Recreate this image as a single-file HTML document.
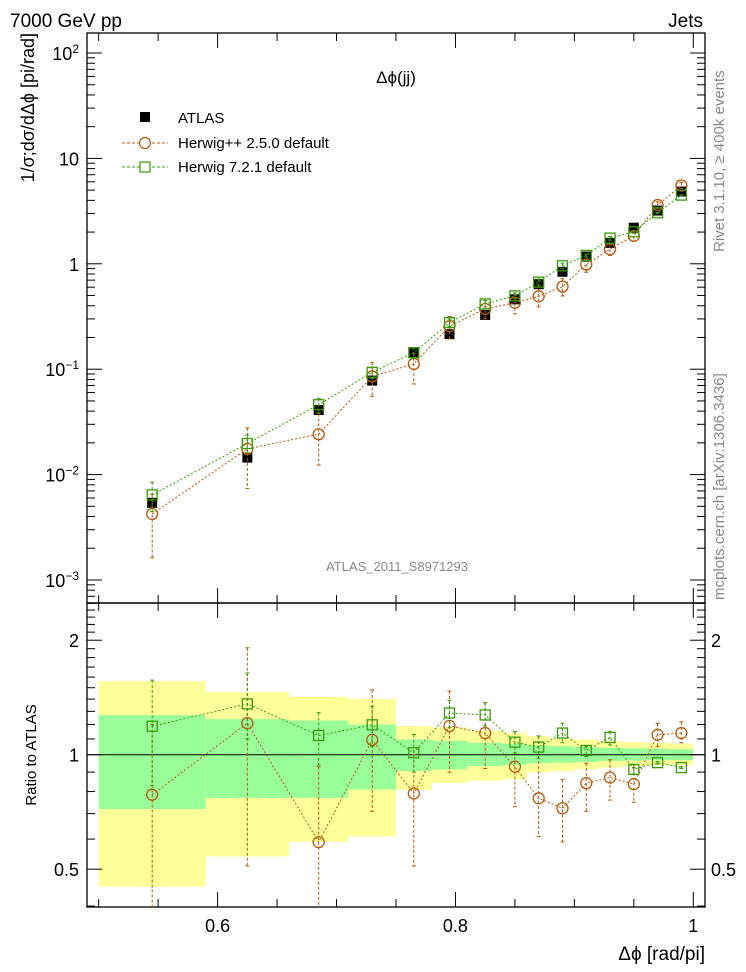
<!DOCTYPE html>
<html><head><meta charset="utf-8"><style>
body{margin:0;background:#fff;}
svg{display:block;font-family:"Liberation Sans",sans-serif;}
</style></head><body>
<svg id="c" width="746" height="972" viewBox="0 0 746 972" xmlns="http://www.w3.org/2000/svg">
<rect x="0" y="0" width="746" height="972" fill="#fff"/>
<g id="bands"></g>
<g id="axes"></g>
<g id="marks"></g>
<text x="10" y="27" font-size="19">7000 GeV pp</text>
<text x="703" y="27" font-size="19" text-anchor="end">Jets</text>
<text x="396" y="83" font-size="17" text-anchor="middle">Δϕ(jj)</text>
<text x="397" y="571" font-size="13" fill="#888" text-anchor="middle">ATLAS_2011_S8971293</text>
<text transform="translate(34,33) rotate(-90)" font-size="18" text-anchor="end">1/σ;dσ/dΔϕ [pi/rad]</text>
<text transform="translate(36,755) rotate(-90)" font-size="15" text-anchor="middle">Ratio to ATLAS</text>
<text x="705" y="960" font-size="19" text-anchor="end">Δϕ [rad/pi]</text>
<text transform="translate(724,252) rotate(-90)" font-size="15" fill="#888">Rivet 3.1.10, ≥ 400k events</text>
<text transform="translate(724,600) rotate(-90)" font-size="15" fill="#888">mcplots.cern.ch [arXiv:1306.3436]</text>
<g>
<rect x="140" y="112" width="10" height="10" fill="#000"/>
<text x="178" y="123" font-size="15">ATLAS</text>
<line x1="122" y1="143" x2="168" y2="143" stroke="#b05a10" stroke-dasharray="3,2"/>
<circle cx="145" cy="143" r="5.5" fill="#fff" stroke="#b05a10" stroke-width="1.2"/>
<text x="178" y="148" font-size="15">Herwig++ 2.5.0 default</text>
<line x1="122" y1="167" x2="168" y2="167" stroke="#3a9a0a" stroke-dasharray="3,2"/>
<rect x="140" y="162" width="10" height="10" fill="#fff" stroke="#3a9a0a" stroke-width="1.2"/>
<text x="178" y="172" font-size="15">Herwig 7.2.1 default</text>
</g>
</svg>
<script>
const xCenters=[0.545,0.625,0.685,0.730,0.765,0.795,0.825,0.850,0.870,0.890,0.910,0.930,0.950,0.970,0.990];
const binEdges=[0.5,0.59,0.66,0.71,0.75,0.78,0.81,0.84,0.86,0.88,0.90,0.92,0.94,0.96,0.98,1.0];
const atlasValues=[0.0054,0.0145,0.041,0.078,0.142,0.215,0.327,0.46,0.64,0.84,1.17,1.58,2.2,3.2,4.85];
const herwigppRatio=[0.785,1.21,0.589,1.094,0.791,1.19,1.14,0.93,0.768,0.723,0.842,0.871,0.837,1.128,1.14];
const herwigppRatioUp=[1.2,1.91,0.93,1.48,1.0,1.47,1.37,1.15,1.12,0.86,0.95,0.97,0.925,1.21,1.22];
const herwigppRatioDown=[0.3,0.51,0.3,0.71,0.51,0.9,0.92,0.73,0.61,0.59,0.71,0.76,0.75,1.05,1.075];
const herwig7Ratio=[1.188,1.36,1.123,1.198,1.012,1.287,1.272,1.079,1.047,1.14,1.026,1.11,0.915,0.953,0.925];
const herwig7RatioUp=[1.57,1.64,1.29,1.34,1.13,1.39,1.37,1.15,1.12,1.21,1.05,1.15,0.94,0.96,0.93];
const herwig7RatioDown=[0.83,1.10,0.94,1.05,0.9,1.18,1.19,1.01,0.98,1.075,0.99,1.06,0.89,0.945,0.92];
const bandTotalUp=[1.56,1.46,1.42,1.40,1.19,1.18,1.157,1.141,1.119,1.101,1.097,1.086,1.079,1.075,1.07];
const bandTotalDown=[0.45,0.54,0.59,0.61,0.809,0.843,0.854,0.862,0.898,0.906,0.916,0.925,0.934,0.938,0.94];
const bandStatUp=[1.27,1.24,1.23,1.2,1.097,1.088,1.075,1.068,1.058,1.053,1.047,1.043,1.039,1.037,1.033];
const bandStatDown=[0.72,0.77,0.77,0.81,0.906,0.915,0.934,0.94,0.949,0.953,0.957,0.963,0.965,0.967,0.968];
const yTickLabels=["10<tspan dy='-7' font-size='12'>2</tspan>","10","1","10<tspan dy='-7' font-size='12'>−1</tspan>","10<tspan dy='-7' font-size='12'>−2</tspan>","10<tspan dy='-7' font-size='12'>−3</tspan>"];
const yTickExps=[2,1,0,-1,-2,-3];
const xTickLabels=["0.6","0.8","1"];
const xTickValues=[0.6,0.8,1.0];
const rTickValues=[2,1,0.5];
const rTickLabels=["2","1","0.5"];

const L=87,R=705,T=33,MID=603,B=907;
const X=v=>217.6+(v-0.6)*1189.2;
const Y=v=>263.8-Math.log10(v)*105.4;
const RY=v=>754.7-Math.log2(v)*114.5;
const NS="http://www.w3.org/2000/svg";
function mk(parent,tag,attrs){const e=document.createElementNS(NS,tag);for(const k in attrs)e.setAttribute(k,attrs[k]);document.getElementById(parent).appendChild(e);return e;}
const clampT=y=>Math.min(Math.max(y,T),MID), clampB=y=>Math.min(Math.max(y,MID),B);

// bands
for(let i=0;i<xCenters.length;i++){
  const x1=X(binEdges[i]),x2=X(binEdges[i+1]);
  let e=mk('bands','rect',{x:x1,y:clampB(RY(bandTotalUp[i])),width:x2-x1,height:clampB(RY(bandTotalDown[i]))-clampB(RY(bandTotalUp[i])),fill:'#ffff99'});
  
  
  e=mk('bands','rect',{x:x1,y:RY(bandStatUp[i]),width:x2-x1,height:RY(bandStatDown[i])-RY(bandStatUp[i]),fill:'#99ff99'});
  
  
}
// axes frames
let f=mk('axes','rect',{x:L,y:T,width:R-L,height:MID-T,fill:'none',stroke:'#000','stroke-width':1.3});


f=mk('axes','rect',{x:L,y:MID,width:R-L,height:B-MID,fill:'none',stroke:'#000','stroke-width':1.3});


let ln=mk('axes','line',{x1:L,x2:R,y1:RY(1),y2:RY(1),stroke:'#000','stroke-width':1});


// x ticks
for(let k=0;k<=10;k++){
  const v=0.5+k*0.05, x=X(v); if(x<L||x>R)continue;
  const major=Math.abs((v*10)%2)<0.01||Math.abs((v*10)%2-2)<0.01;
  const len=(Math.round(v*100)%20===0)?15:8;
  [[T,1],[MID,-1],[MID,1],[B,-1]].forEach(([y0,d])=>{mk('axes','line',{x1:x,x2:x,y1:y0,y2:y0+d*len,stroke:'#000'});});
}
xTickValues.forEach((v,i)=>{const t=mk('axes','text',{x:X(v),y:932,'font-size':18,'text-anchor':'middle'});t.textContent=xTickLabels[i];

});
// y ticks log
for(let e=-4;e<=2;e++){for(let m=1;m<=9;m++){const v=m*Math.pow(10,e);const y=Y(v);if(y<T||y>MID)continue;const len=m===1?15:8;
  mk('axes','line',{x1:L,x2:L+len,y1:y,y2:y,stroke:'#000'});mk('axes','line',{x1:R,x2:R-len,y1:y,y2:y,stroke:'#000'});}}
yTickExps.forEach((e,i)=>{const t=mk('axes','text',{x:79,y:Y(Math.pow(10,e))+7,'font-size':18,'text-anchor':'end'});t.innerHTML=yTickLabels[i];

});
// ratio ticks
for(let v=0.4;v<=2.51;v+=0.1){const y=RY(v);if(y<MID||y>B)continue;const maj=[0.5,1,2].some(a=>Math.abs(a-v)<1e-6);const len=maj?15:8;
  mk('axes','line',{x1:L,x2:L+len,y1:y,y2:y,stroke:'#000'});mk('axes','line',{x1:R,x2:R-len,y1:y,y2:y,stroke:'#000'});}
rTickValues.forEach((v,i)=>{const y=RY(v)+7;
  let t=mk('axes','text',{x:79,y:y,'font-size':18,'text-anchor':'end'});t.textContent=rTickLabels[i];
  
  
  t=mk('axes','text',{x:711,y:y,'font-size':18});t.textContent=rTickLabels[i];
  
  });

// series
function series(ratio,up,down,color,shape,name){
  const n=xCenters.length;
  const topPts=[],botPts=[];
  for(let i=0;i<n;i++){topPts.push(X(xCenters[i])+','+Y(atlasValues[i]*ratio[i]));botPts.push(X(xCenters[i])+','+RY(ratio[i]));}
  let p=mk('marks','polyline',{points:topPts.join(' '),fill:'none',stroke:color,'stroke-dasharray':'2,2','stroke-width':1});
  
  
  p=mk('marks','polyline',{points:botPts.join(' '),fill:'none',stroke:color,'stroke-dasharray':'2,2','stroke-width':1});
  
  
  for(let i=0;i<n;i++){
    const x=X(xCenters[i]);
    const yu=clampT(Y(atlasValues[i]*up[i])),yd=clampT(Y(atlasValues[i]*down[i]));
    mk('marks','line',{x1:x,x2:x,y1:yu,y2:yd,stroke:color,'stroke-dasharray':'3,2'});
    const ru=clampB(RY(up[i])),rd=clampB(RY(down[i]));
    mk('marks','line',{x1:x,x2:x,y1:ru,y2:rd,stroke:color,'stroke-dasharray':'3,2'});
    [[ru],[rd],[yu],[yd]].forEach(([yy])=>{if(yy>T+1&&yy<B-1&&Math.abs(yy-MID)>1)mk('marks','line',{x1:x-2,x2:x+2,y1:yy,y2:yy,stroke:color});});
    [Y(atlasValues[i]*ratio[i]),RY(ratio[i])].forEach(yy=>{
      let m;
      if(shape==='c')m=mk('marks','circle',{cx:x,cy:yy,r:5.5,fill:'none',stroke:color,'stroke-width':1.3});
      else m=mk('marks','rect',{x:x-5,y:yy-5,width:10,height:10,fill:'none',stroke:color,'stroke-width':1.3});
      
      
    });
  }
}
// atlas
for(let i=0;i<xCenters.length;i++){
  const m=mk('marks','rect',{x:X(xCenters[i])-5,y:Y(atlasValues[i])-5,width:10,height:10,fill:'#000'});
  
  
}
series(herwigppRatio,herwigppRatioUp,herwigppRatioDown,'#b05a10','c','herwigpp');
series(herwig7Ratio,herwig7RatioUp,herwig7RatioDown,'#3a9a0a','s','herwig7');
</script>
</body></html>
